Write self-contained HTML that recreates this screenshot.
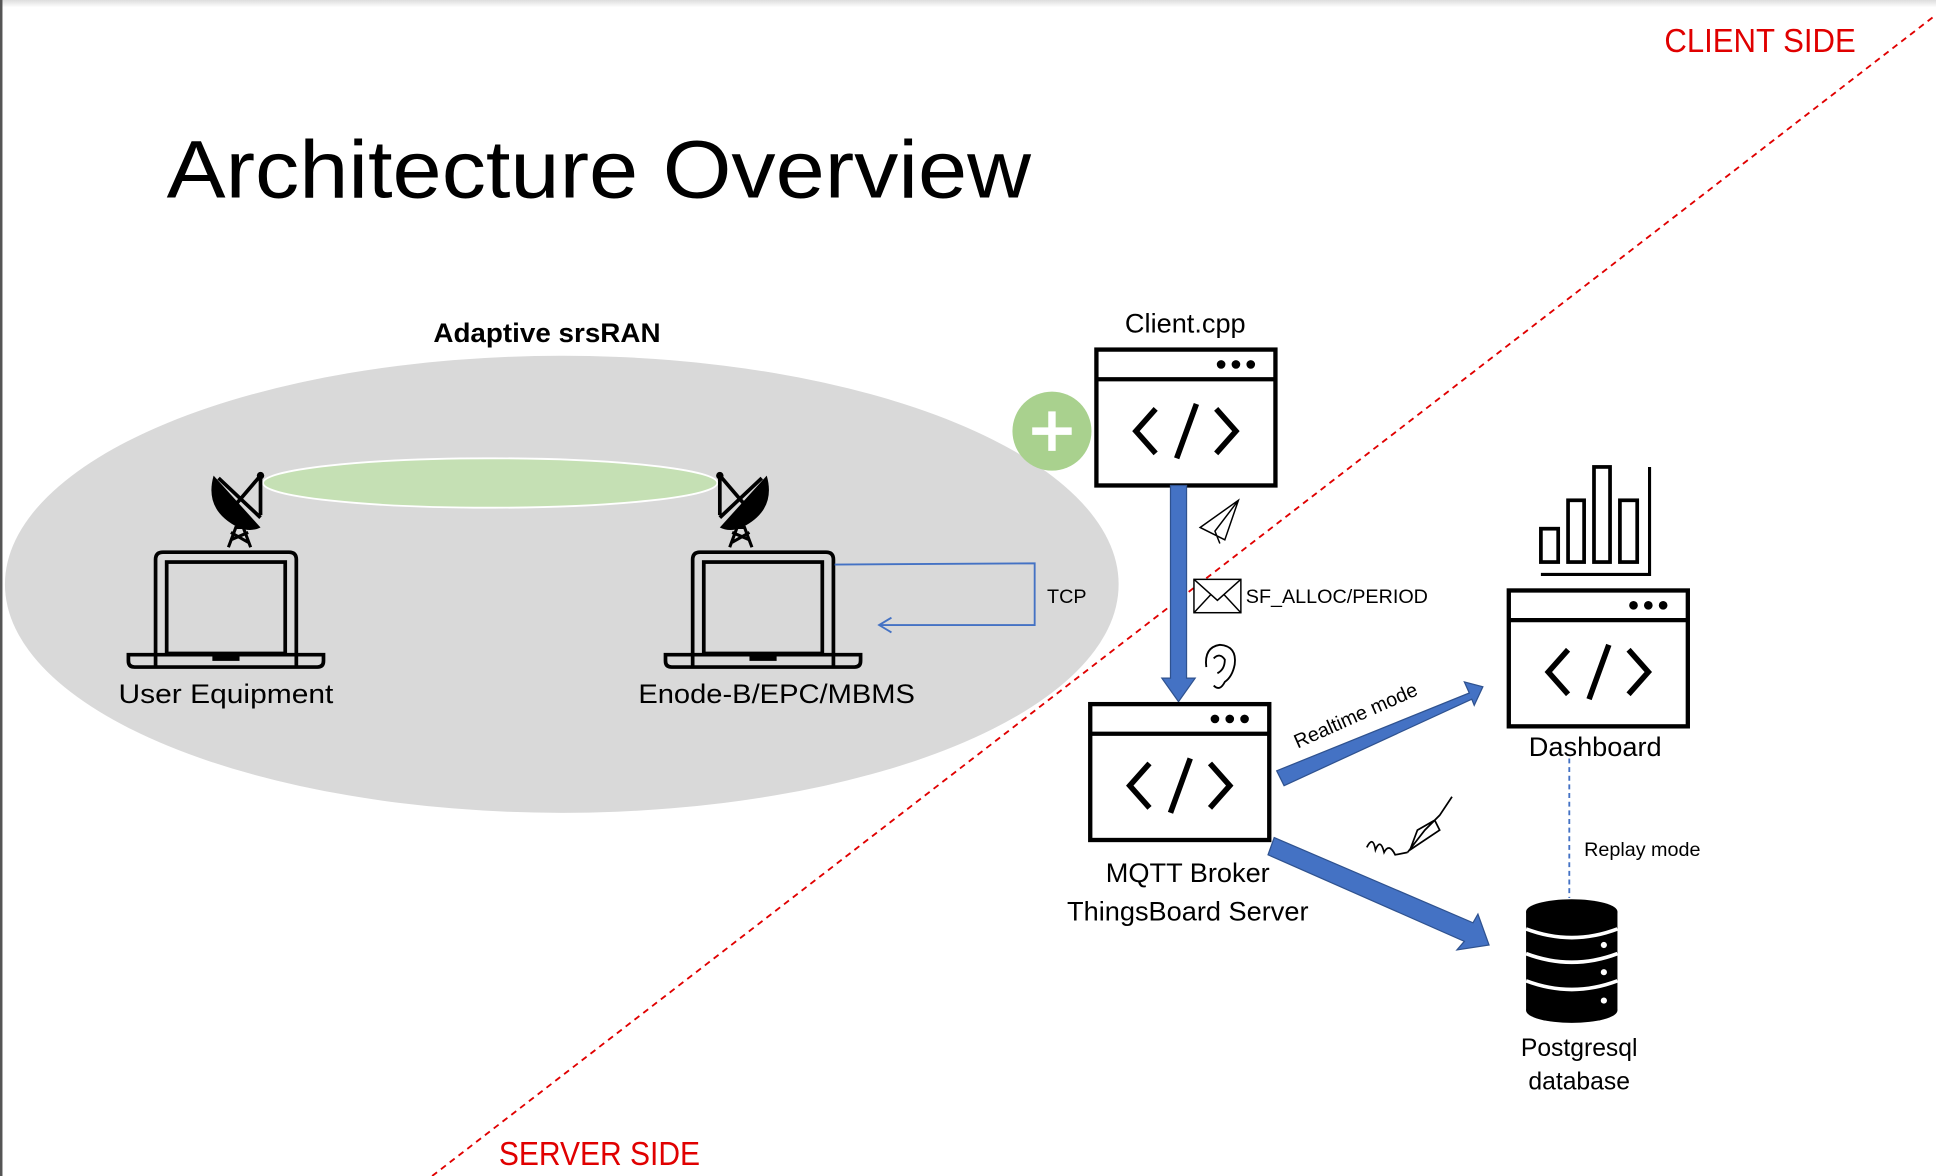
<!DOCTYPE html>
<html><head><meta charset="utf-8"><style>
html,body{margin:0;padding:0;background:#fff;}
svg{display:block;}
text{font-family:"Liberation Sans",sans-serif;}
</style></head><body>
<svg width="1936" height="1176" viewBox="0 0 1568 952" preserveAspectRatio="none" xmlns="http://www.w3.org/2000/svg">
<defs>
<linearGradient id="tg" x1="0" y1="0" x2="0" y2="1"><stop offset="0" stop-color="#ddd"/><stop offset="1" stop-color="#fff"/></linearGradient>
<g id="win">
<rect x="0" y="0" width="145" height="110" fill="#fff" stroke="#000" stroke-width="3.5"/>
<line x1="0" y1="24" x2="145" y2="24" stroke="#000" stroke-width="3.5"/>
<circle cx="101" cy="12" r="3.5"/><circle cx="113" cy="12" r="3.5"/><circle cx="125" cy="12" r="3.5"/>
<path d="M48 48 L32 66 L48 84 M97 48 L113 66 L97 84 M81 44 L65 88" fill="none" stroke="#000" stroke-width="4.5"/>
</g>
<g id="laptop">
<path d="M22 92 V6 Q22 0 28 0 H130 Q136 0 136 6 V92" fill="none" stroke="#000" stroke-width="3"/>
<rect x="31" y="8" width="96" height="74" fill="none" stroke="#000" stroke-width="3"/>
<path d="M0 83 H158 V88 Q158 93 153 93 H5 Q0 93 0 88 Z" fill="none" stroke="#000" stroke-width="3"/>
<rect x="68" y="83" width="22" height="5" fill="#000"/>
</g>
<g id="dish">
<path d="M-20 -28 Q-28 0 0 14 Q10 18 18 14 Z" fill="#000"/>
<path d="M-16 -26 L18 6 M18 -28 L-6 0 M18 -28 V4" stroke="#000" stroke-width="3" fill="none"/>
<circle cx="18" cy="-28" r="3"/>
<path d="M-8 30 L-2 14 L4 14 L10 30 M-6 24 L8 18 M-6 18 L8 26" stroke="#000" stroke-width="2.5" fill="none"/>
</g>
</defs>
<rect x="0" y="0" width="1568" height="6" fill="url(#tg)"/>
<line x1="1" y1="0" x2="1" y2="952" stroke="#555" stroke-width="2"/>

<text x="135" y="160" font-size="66" textLength="700" lengthAdjust="spacingAndGlyphs">Architecture Overview</text>
<text x="1348" y="42" font-size="27" fill="#e00000" textLength="155" lengthAdjust="spacingAndGlyphs">CLIENT SIDE</text>
<text x="404" y="943" font-size="27" fill="#e00000" textLength="163" lengthAdjust="spacingAndGlyphs">SERVER SIDE</text>

<ellipse cx="455" cy="473" rx="451" ry="185" fill="#d9d9d9"/>
<ellipse cx="397" cy="391" rx="184" ry="20" fill="#c5e0b4" stroke="#fff" stroke-width="1.5"/>
<text x="443" y="277" font-size="22" font-weight="bold" text-anchor="middle" textLength="184" lengthAdjust="spacingAndGlyphs">Adaptive srsRAN</text>

<use href="#laptop" x="104" y="447"/>
<use href="#laptop" x="539" y="447"/>
<use href="#dish" x="193" y="413"/>
<g transform="translate(601,413) scale(-1,1)"><use href="#dish"/></g>
<text x="183" y="569" font-size="22" text-anchor="middle" textLength="174" lengthAdjust="spacingAndGlyphs">User Equipment</text>
<text x="629" y="569" font-size="22" text-anchor="middle" textLength="224" lengthAdjust="spacingAndGlyphs">Enode-B/EPC/MBMS</text>

<path d="M676 457 L838 456 V506 H712" fill="none" stroke="#4472c4" stroke-width="1.5"/>
<path d="M722 500 L712 506 L722 512" fill="none" stroke="#4472c4" stroke-width="1.5"/>
<text x="848" y="488" font-size="16">TCP</text>

<line x1="350" y1="952" x2="1568" y2="12" stroke="#e00000" stroke-width="1.5" stroke-dasharray="5,4"/>

<circle cx="852" cy="349" r="32" fill="#a9d18e"/>
<path d="M852 333 V365 M836 349 H868" stroke="#fff" stroke-width="6"/>

<text x="960" y="269" font-size="22" text-anchor="middle">Client.cpp</text>
<use href="#win" x="888" y="283"/>

<path d="M948 393 H961 V549 H968 L954.5 568 L941 549 H948 Z" fill="#4472c4" stroke="#2f528f" stroke-width="1"/>

<path d="M972 427 L1003 405 L992 437 Z M1003 405 L984 430 L988 440" fill="none" stroke="#000" stroke-width="1.2"/>
<rect x="967" y="469" width="38" height="27" fill="#fff" stroke="#000" stroke-width="1.2"/>
<path d="M967 469 L986 486 L1005 469 M967 496 L981 481 M1005 496 L991 481" fill="none" stroke="#000" stroke-width="1.2"/>
<text x="1009" y="488" font-size="16">SF_ALLOC/PERIOD</text>
<path d="M977 540 Q975 524 988 522 Q1002 523 1000 538 Q998 548 992 552 Q988 560 983 555 M983 533 Q988 528 992 534 Q992 542 986 545" fill="none" stroke="#000" stroke-width="1.5"/>

<use href="#win" x="883" y="570"/>
<text x="962" y="714" font-size="22" text-anchor="middle">MQTT Broker</text>
<text x="962" y="745" font-size="22" text-anchor="middle">ThingsBoard Server</text>

<path d="M1034 624 L1190 561 L1186 552 L1201 556 L1194 571 L1192 566 L1040 636 Z" fill="#4472c4" stroke="#2f528f" stroke-width="1"/>
<text x="0" y="0" font-size="16" transform="translate(1051,606) rotate(-24)">Realtime mode</text>
<path d="M1032 678 L1193 747 L1197 740 L1206 765 L1180 769 L1186 762 L1027 692 Z" fill="#4472c4" stroke="#2f528f" stroke-width="1"/>
<path d="M1107 686 Q1112 676 1114 688 Q1118 678 1121 690 Q1125 682 1130 692 L1140 690 M1140 690 L1154 672 L1166 660 L1176 645 M1142 688 L1148 672 L1162 664 L1166 672 Z" fill="none" stroke="#000" stroke-width="1.4"/>

<rect x="1248" y="428" width="14" height="27" fill="none" stroke="#000" stroke-width="3"/>
<rect x="1270" y="405" width="13" height="50" fill="none" stroke="#000" stroke-width="3"/>
<rect x="1291" y="378" width="13" height="77" fill="none" stroke="#000" stroke-width="3"/>
<rect x="1312" y="405" width="14" height="50" fill="none" stroke="#000" stroke-width="3"/>
<path d="M1336 378 V465 H1248" fill="none" stroke="#000" stroke-width="2.5"/>
<use href="#win" x="1222" y="478"/>
<text x="1292" y="612" font-size="22" text-anchor="middle">Dashboard</text>
<line x1="1271" y1="614" x2="1271" y2="727" stroke="#4472c4" stroke-width="1.5" stroke-dasharray="4,3"/>
<text x="1283" y="693" font-size="16">Replay mode</text>

<g>
<rect x="1236" y="738" width="74" height="80" fill="#000"/>
<ellipse cx="1273" cy="738" rx="37" ry="10" fill="#000"/>
<ellipse cx="1273" cy="818" rx="37" ry="10" fill="#000"/>
<path d="M1236 752 Q1273 766 1310 752 M1236 772 Q1273 786 1310 772 M1236 794 Q1273 808 1310 794" fill="none" stroke="#fff" stroke-width="3"/>
<circle cx="1299" cy="765" r="2.5" fill="#fff"/><circle cx="1299" cy="787" r="2.5" fill="#fff"/><circle cx="1299" cy="810" r="2.5" fill="#fff"/>
</g>
<text x="1279" y="855" font-size="20" text-anchor="middle">Postgresql</text>
<text x="1279" y="882" font-size="20" text-anchor="middle">database</text>
</svg>
</body></html>
